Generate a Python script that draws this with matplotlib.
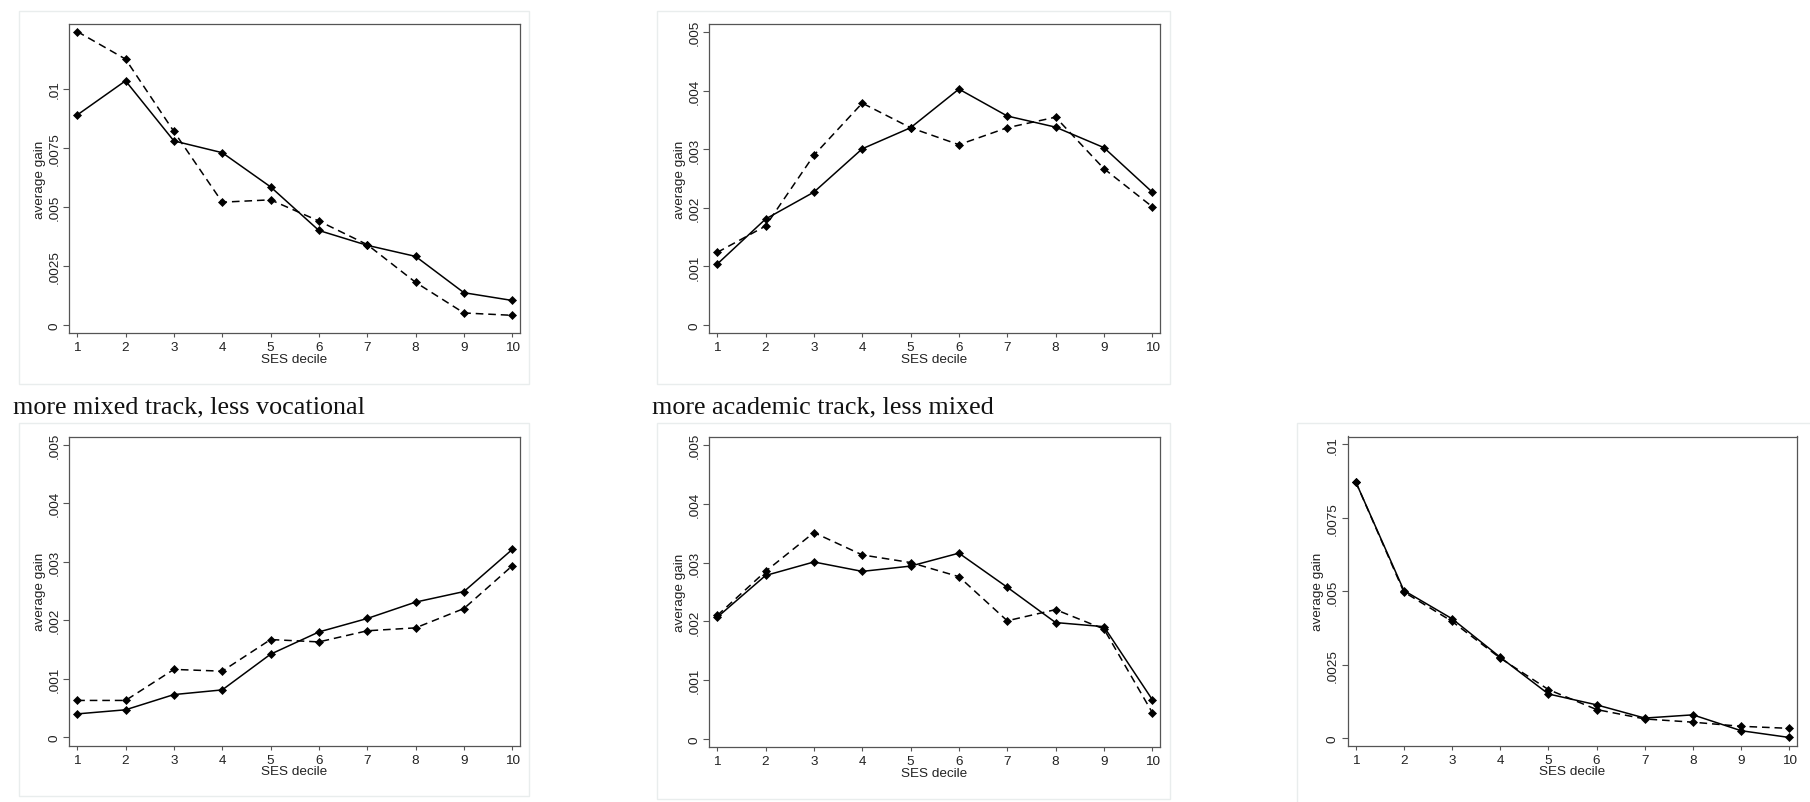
import matplotlib
matplotlib.use("Agg")
import matplotlib.pyplot as plt
from matplotlib.patches import Rectangle

W, H = 1810, 803
DPI = 100

deciles = [1, 2, 3, 4, 5, 6, 7, 8, 9, 10]

p1_solid = [0.0089, 0.01035, 0.0078, 0.0073, 0.00585, 0.0040, 0.00337, 0.0029, 0.00136, 0.00103]
p1_dash = [0.01244, 0.01127, 0.0082, 0.0052, 0.0053, 0.0044, 0.0034, 0.0018, 0.0005, 0.0004]

p2_solid = [0.00104, 0.00181, 0.00227, 0.00301, 0.00337, 0.00403, 0.00357, 0.00338, 0.00303, 0.00227]
p2_dash = [0.00124, 0.00169, 0.00290, 0.00379, 0.00337, 0.00308, 0.00337, 0.00355, 0.00267, 0.00202]

p3_solid = [0.00040, 0.00047, 0.00073, 0.00081, 0.00142, 0.00180, 0.00203, 0.00231, 0.00249, 0.00321]
p3_dash = [0.00063, 0.00063, 0.00116, 0.00113, 0.00167, 0.00163, 0.00182, 0.00187, 0.00220, 0.00293]

p4_solid = [0.00207, 0.00278, 0.00301, 0.00285, 0.00294, 0.00316, 0.00258, 0.00198, 0.00191, 0.00067]
p4_dash = [0.00210, 0.00285, 0.00351, 0.00313, 0.00300, 0.00276, 0.00201, 0.00220, 0.00187, 0.00045]

p5_solid = [0.00873, 0.00503, 0.00407, 0.00276, 0.00151, 0.00114, 0.00069, 0.00080, 0.00026, 0.00003]
p5_dash = [0.00873, 0.00498, 0.00398, 0.00273, 0.00166, 0.00098, 0.00066, 0.00055, 0.00041, 0.00034]

ticks_big = [0, 0.0025, 0.005, 0.0075, 0.01]
labels_big = ["0", ".0025", ".005", ".0075", ".01"]
ticks_small = [0, 0.001, 0.002, 0.003, 0.004, 0.005]
labels_small = ["0", ".001", ".002", ".003", ".004", ".005"]

titles = ["more mixed track, less vocational", "more academic track, less mixed"]
xlabel = "SES decile"
ylabel = "average gain"

plt.rcParams['font.family'] = ['Liberation Sans', 'DejaVu Sans']

fig = plt.figure(figsize=(W / DPI, H / DPI), dpi=DPI)
fig.patch.set_facecolor('white')


def frac_rect(l, t, r, b):
    return [l / W, 1 - b / H, (r - l) / W, (b - t) / H]


# faint panel outlines
for (l, t, r, b) in [(19, 12, 529, 385), (657, 12, 1170, 385),
                     (19, 424, 529, 797), (657, 424, 1170, 800),
                     (1297, 424, 1812, 805)]:
    fig.patches.append(Rectangle((l / W, 1 - b / H), (r - l) / W, (b - t) / H,
                                 transform=fig.transFigure, facecolor='none',
                                 edgecolor='#e9eded', linewidth=1.0, zorder=-10))

panels = [
    ((69, 25, 520, 334), p1_solid, p1_dash, (-0.00035, 0.01276), ticks_big, labels_big),
    ((709, 25, 1160, 334), p2_solid, p2_dash, (-0.000137, 0.005142), ticks_small, labels_small),
    ((69, 437.7, 520, 746.5), p3_solid, p3_dash, (-0.00014, 0.005136), ticks_small, labels_small),
    ((709, 437.7, 1160, 748), p4_solid, p4_dash, (-0.000136, 0.00514), ticks_small, labels_small),
    ((1347.5, 437.5, 1797, 746.7), p5_solid, p5_dash, (-0.00025, 0.01027), ticks_big, labels_big),
]

for rect, solid, dash, ylim, yt, yl in panels:
    ax = fig.add_axes(frac_rect(*rect))
    ax.set_zorder(5)
    ax.patch.set_alpha(0)
    ax.plot(deciles, dash, color='black', lw=1.1, linestyle=(0, (5, 3.2)),
            marker='D', markersize=3.7, markeredgewidth=0.5, zorder=3)
    ax.plot(deciles, solid, color='black', lw=1.1, linestyle='-',
            marker='D', markersize=3.7, markeredgewidth=0.5, zorder=4)
    ax.set_xlim(0.83, 10.16)
    ax.set_ylim(*ylim)
    ax.set_xticks(deciles)
    ax.set_xticklabels([str(d) for d in deciles])
    ax.set_yticks(yt)
    ax.set_yticklabels(yl, rotation=90, va='center')
    for s in ax.spines.values():
        s.set_color('#555555')
        s.set_linewidth(0.9)
    ax.tick_params(axis='x', length=3.0, width=0.8, color='#555555', pad=3.0,
                   labelsize=9.7, labelcolor='#222222')
    ax.tick_params(axis='y', length=4.3, width=0.8, color='#555555', pad=2.0,
                   labelsize=9.7, labelcolor='#222222')
    ax.set_xlabel(xlabel, fontsize=9.7, color='#222222')
    ax.xaxis.set_label_coords(0.5, -0.064)
    ax.set_ylabel(ylabel, fontsize=9.7, color='#222222')
    ax.yaxis.set_label_coords(-0.052, 0.5)

fig.text(13 / W, 1 - 413 / H, titles[0], fontsize=18.8, family='Liberation Serif',
         ha='left', va='baseline', color='#111111')
fig.text(652 / W, 1 - 413 / H, titles[1], fontsize=18.8, family='Liberation Serif',
         ha='left', va='baseline', color='#111111')

fig.savefig('out.png', dpi=DPI, facecolor='white')
